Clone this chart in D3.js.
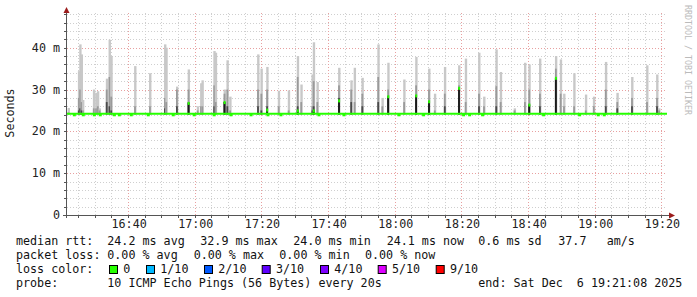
<!DOCTYPE html>
<html>
<head>
<meta charset="utf-8">
<script src="https://cdn.jsdelivr.net/npm/d3@7"></script>
<style>
  body { margin: 0; background: #fff; }
  text { font-family: "DejaVu Sans Mono", monospace; }
</style>
</head>
<body>
<div id="chart"></div>
<script>
// median rtt baseline and the smoke columns
var medianBase = 24.2;
var smokeBase = 24.0;

var smokeTime = ["16:21:50","16:24:56","16:25:20","16:25:45","16:26:10","16:29:26","16:30:07","16:30:38","16:31:10",
  "16:33:19","16:34:08","16:34:40","16:41:48","16:46:17","16:50:47","16:51:10","16:54:22","16:57:52","17:00:36",
  "17:01:36","17:02:00","17:05:34","17:06:00","17:08:39","17:09:30","17:10:20","17:18:42","17:19:42","17:21:26",
  "17:24:54","17:27:54","17:30:36","17:31:40","17:35:00","17:35:24","17:36:30","17:43:00","17:46:40","17:47:40",
  "17:50:00","17:54:46","17:56:00","17:57:45","18:02:32","18:06:08","18:10:00","18:11:44","18:14:44","18:19:00",
  "18:21:00","18:25:00","18:26:30","18:30:11","18:31:30","18:35:40","18:38:46","18:40:04","18:43:16","18:48:03",
  "18:49:30","18:50:30","18:53:32","18:57:02","18:59:26","19:03:02","19:06:29","19:10:54","19:15:24","19:18:24","19:19:00"];
var smokeMax = [25.6,34.4,40.8,38.4,27.5,30.0,29.2,29.6,25.5,
  32.6,41.9,38.0,35.6,33.9,40.8,40.0,30.7,34.8,26.0,
  31.5,32.2,39.2,38.8,30.0,37.0,28.3,38.4,35.0,35.4,
  29.7,29.8,38.0,31.2,33.6,41.3,31.8,35.2,32.2,35.2,
  32.8,40.8,28.0,36.4,32.4,37.8,35.0,29.0,35.4,35.8,
  37.4,38.8,28.3,39.6,34.2,25.5,36.4,36.0,37.4,38.0,
  37.2,29.0,33.9,28.8,28.3,36.6,29.2,33.0,35.8,33.6,25.5];
var smokeMid = [24.5,28,30,27,25,25.5,25.5,26,25,
  30,33,28.3,26,26,28,27,30,30,25,
  26,26,31,27,29,30,25,30,29,30,
  26,25,33,27,26,32,27,31,30,27,
  29,33,26,30,27,31,30,25,29,31,
  27,29,26,30.8,27,25,27,30,29,35,
  29,26,26,25,26,30,27,28,27,28,25];
var smokeLow = [0,25,25.5,25,0,0,0,0,0,
  27,26,25,0,0,25.5,0,26,27,0,
  0,0,26,0,27,26,0,26,25,26,
  0,0,26,0,25,26,0,28,27,0,
  26,27,0,28,0,28.6,27.2,0,26,30.4,
  0,26,0,26,0,0,0,26.4,26,32.8,
  0,0,0,0,0,26,25.5,26,0,26,0];

// points where the median itself jumped up
var medTime = ["16:57:52","17:08:39","17:21:26","17:30:36","17:35:24","17:43:00","17:57:45","18:06:08","18:10:00","18:19:00","18:40:04","18:48:03"];
var medValue = [26.8,27.0,25.2,25.0,25.0,27.4,28.4,28.6,27.2,30.4,26.4,32.8];

// short dips of the median line
var dipTime = ["16:23:25","16:26:06","16:29:25","16:31:12","16:35:25","16:36:55","16:40:30","16:45:36","16:53:05","16:59:22",
  "17:05:22","17:10:26","17:16:26","17:21:30","17:25:24","17:36:48","17:44:18","18:00:48","18:08:12","18:20:12",
  "18:22:00","18:25:54","18:44:12","18:55:00","19:00:36","19:02:24"];

var yTicks = [0, 10, 20, 30, 40];
var lossLabels = ["0","1/10","2/10","3/10","4/10","5/10","9/10"];
var lossColors = ["#26ff00","#00b8ff","#0059ff","#5e00ff","#7e00ff","#dd00ff","#ff0000"];

var width = 697, height = 297;
var parse = d3.timeParse("%H:%M:%S");
var x = d3.scaleTime().domain([parse("16:21:40"), parse("19:21:40")]).range([67, 667]);
var y = d3.scaleLinear().domain([0, 48.3]).range([215, 13]);

var svg = d3.select("#chart").append("svg").attr("width", width).attr("height", height);

// grid
var minorY = d3.range(2, 49, 2).filter(function(v){ return v % 10 != 0; });
svg.append("g").selectAll("line").data(minorY).enter().append("line")
  .attr("x1", 67).attr("x2", 667)
  .attr("y1", function(d){ return Math.round(y(d)) + 0.5; }).attr("y2", function(d){ return Math.round(y(d)) + 0.5; })
  .attr("stroke", "#cfcfcf").attr("stroke-dasharray", "1,2");
var minorX = x.ticks(d3.timeMinute.every(5)).filter(function(d){ return d.getMinutes() % 20 != 0; });
svg.append("g").selectAll("line").data(minorX).enter().append("line")
  .attr("x1", function(d){ return Math.round(x(d)) + 0.5; }).attr("x2", function(d){ return Math.round(x(d)) + 0.5; })
  .attr("y1", 13).attr("y2", 215)
  .attr("stroke", "#cfcfcf").attr("stroke-dasharray", "1,2");
svg.append("g").selectAll("line").data(yTicks.slice(1)).enter().append("line")
  .attr("x1", 67).attr("x2", 667)
  .attr("y1", function(d){ return Math.round(y(d)) + 0.5; }).attr("y2", function(d){ return Math.round(y(d)) + 0.5; })
  .attr("stroke", "#e8a0a0").attr("stroke-dasharray", "1,2");
var majorX = x.ticks(d3.timeMinute.every(20));
svg.append("g").selectAll("line").data(majorX).enter().append("line")
  .attr("x1", function(d){ return Math.round(x(d)) + 0.5; }).attr("x2", function(d){ return Math.round(x(d)) + 0.5; })
  .attr("y1", 13).attr("y2", 215)
  .attr("stroke", "#e8a0a0").attr("stroke-dasharray", "1,2");

// smoke
var colW = function(t){ return x(new Date(t.getTime() + 32000)) - x(t); };
var smoke = svg.append("g");
smokeTime.forEach(function(s, i){
  var t = parse(s), x0 = x(t), w = colW(t);
  smoke.append("rect").attr("x", x0).attr("width", w + 0.6)
    .attr("y", y(smokeMax[i])).attr("height", y(smokeBase) - y(smokeMax[i])).attr("fill", "#c8c8c8");
  smoke.append("rect").attr("x", x0).attr("width", w)
    .attr("y", y(smokeMid[i])).attr("height", y(smokeBase) - y(smokeMid[i])).attr("fill", "#9a9a9a");
  if(smokeLow[i] > 0)
    smoke.append("rect").attr("x", x0).attr("width", w)
      .attr("y", y(smokeLow[i])).attr("height", y(smokeBase) - y(smokeLow[i])).attr("fill", "#4a4a4a");
});
medTime.forEach(function(s, i){
  var t = parse(s);
  smoke.append("rect").attr("x", x(t)).attr("width", colW(t))
    .attr("y", y(medValue[i])).attr("height", y(smokeBase) - y(medValue[i])).attr("fill", "#1a1a1a");
});

// median line
svg.append("path")
  .datum(x.domain())
  .attr("d", d3.line().x(function(d){ return x(d); }).y(y(medianBase)))
  .attr("stroke", lossColors[0]).attr("stroke-width", 2).attr("fill", "none");
svg.append("g").selectAll("rect").data(dipTime).enter().append("rect")
  .attr("x", function(d){ return x(parse(d)); }).attr("width", 3)
  .attr("y", y(medianBase)).attr("height", 2.5).attr("fill", lossColors[0]);
svg.append("g").selectAll("rect").data(medTime).enter().append("rect")
  .attr("x", function(d){ return x(parse(d)); }).attr("width", 2)
  .attr("y", function(d, i){ return y(medValue[i]) - 1; }).attr("height", 3).attr("fill", lossColors[0]);

// axes
var axisCol = "#555";
svg.append("line").attr("x1", 66.5).attr("x2", 66.5).attr("y1", 12).attr("y2", 218).attr("stroke", axisCol);
svg.append("line").attr("x1", 63).attr("x2", 670).attr("y1", 215.5).attr("y2", 215.5).attr("stroke", axisCol);
svg.append("g").selectAll("line").data(d3.range(0, 49, 2)).enter().append("line")
  .attr("x1", 64).attr("x2", 67)
  .attr("y1", function(d){ return Math.round(y(d)) + 0.5; }).attr("y2", function(d){ return Math.round(y(d)) + 0.5; })
  .attr("stroke", axisCol);
svg.append("g").selectAll("line").data(x.ticks(d3.timeMinute.every(5))).enter().append("line")
  .attr("x1", function(d){ return Math.round(x(d)) + 0.5; }).attr("x2", function(d){ return Math.round(x(d)) + 0.5; })
  .attr("y1", 215).attr("y2", 218)
  .attr("stroke", axisCol);
svg.append("path").attr("d", "M63.5,13L66.5,7L69.5,13Z").attr("fill", "#9b1c1c");
svg.append("path").attr("d", "M669,212.5L675,215.5L669,218.5Z").attr("fill", "#9b1c1c");

svg.append("g").selectAll("text").data(yTicks).enter().append("text")
  .attr("x", 60).attr("y", function(d){ return y(d) + 4; })
  .attr("text-anchor", "end").attr("font-size", "11.7px").attr("fill", "#222")
  .text(function(d){ return d == 0 ? "0" : d + " m"; });
svg.append("g").selectAll("text").data(majorX).enter().append("text")
  .attr("x", function(d){ return x(d) + 1; }).attr("y", 228)
  .attr("text-anchor", "middle").attr("font-size", "11.7px").attr("fill", "#222")
  .text(d3.timeFormat("%H:%M"));

svg.append("text").attr("transform", "translate(14,113) rotate(-90)")
  .attr("text-anchor", "middle").attr("font-size", "11.7px").attr("fill", "#222").text("Seconds");
svg.append("text").attr("transform", "translate(685,5) rotate(90)")
  .attr("font-size", "8.3px").attr("fill", "#bbb").text("RRDTOOL / TOBI OETIKER");

// legend
function legendLine(yy, parts){
  var t = svg.append("text").attr("y", yy).attr("font-size", "11.7px").attr("fill", "#111").attr("xml:space", "preserve");
  parts.forEach(function(p){ t.append("tspan").attr("x", p[0]).attr("y", yy).text(p[1]); });
}
legendLine(245, [[16,"median rtt:"],[107.3,"24.2 ms avg"],[200.3,"32.9 ms max"],[293.3,"24.0 ms min"],[386.7,"24.1 ms now"],[478.3,"0.6 ms sd"],[558.3,"37.7"],[606.7,"am/s"]]);
legendLine(259, [[16,"packet loss:"],[107.3,"0.00 % avg"],[193.7,"0.00 % max"],[279.3,"0.00 % min"],[365,"0.00 % now"]]);
legendLine(273, [[16,"loss color:"]]);
var boxX = [109, 146, 204, 261.7, 320, 377.7, 435.7];
var lg = svg.append("g");
lossLabels.forEach(function(l, i){
  lg.append("rect").attr("x", boxX[i] + 0.5).attr("y", 265.5).attr("width", 8).attr("height", 8)
    .attr("fill", lossColors[i]).attr("stroke", "#000");
  lg.append("text").attr("x", boxX[i] + 14.3).attr("y", 273).attr("font-size", "11.7px").attr("fill", "#111").text(l);
});
legendLine(287, [[16,"probe:"],[107.3,"10 ICMP Echo Pings (56 Bytes) every 20s"],[478.3,"end: Sat Dec  6 19:21:08 2025"]]);
</script>
</body>
</html>
